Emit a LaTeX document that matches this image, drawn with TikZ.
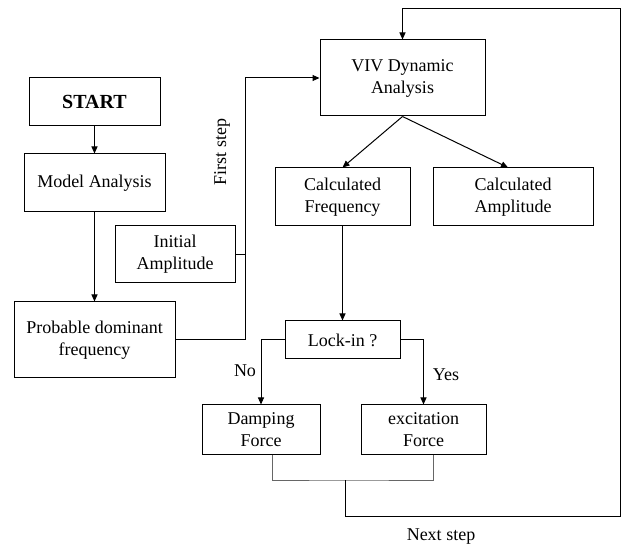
\documentclass[tikz,border=0pt]{standalone}
\usepackage{fontspec}
\setmainfont{Liberation Serif}
\usetikzlibrary{arrows.meta,calc}

\begin{document}
\begin{tikzpicture}[x=1pt, y=-1pt, line width=1pt,
    font=\fontsize{18}{22}\selectfont,
    box/.style={draw, align=center, inner sep=0pt},
    arr/.style={-{Triangle[length=7pt,width=6pt]}},
    mrg/.style={draw=black!60, line width=0.8pt}]
  \useasboundingbox (0,0) rectangle (627,545);
  % left column
  \node[box, minimum width=131pt, minimum height=48pt, font=\fontsize{20}{24}\selectfont\bfseries] (start) at (94.5,102) {START};
  \node[box, minimum width=141pt, minimum height=58pt] (model) at (94.5,183) {Model Analysis};
  \node[box, minimum width=120pt, minimum height=57pt] (init) at (175,254.5) {Initial\\Amplitude};
  \node[box, minimum width=161pt, minimum height=76pt] (prob) at (94.5,340) {Probable dominant\\frequency};
  % right part
  \node[box, minimum width=165pt, minimum height=76pt] (viv) at (402.5,78) {VIV Dynamic\\Analysis};
  \node[box, minimum width=135pt, minimum height=58pt] (cfreq) at (342.5,197) {Calculated\\Frequency};
  \node[box, minimum width=160pt, minimum height=58pt] (camp) at (513,197) {Calculated\\Amplitude};
  \node[box, minimum width=115pt, minimum height=38pt] (lock) at (342.5,340) {Lock-in ?};
  \node[box, minimum width=118pt, minimum height=49pt] (damp) at (261,429.5) {Damping\\Force};
  \node[box, minimum width=125pt, minimum height=49pt] (exc) at (423.5,429.5) {excitation\\Force};
  % labels
  \node[rotate=90] (first) at (222,152) {First step};
  \node (no) at (245,371) {No};
  \node (yes) at (446,375) {Yes};
  \node (next) at (441,537) {Next step};
  \coordinate (merge) at (345,480);
  % connectors
  \draw[arr] (start) -- (model);
  \draw[arr] (model) -- (prob);
  \draw[arr] (prob.east) -- ++(70,0) |- (viv.west);
  \draw (init.east) -- ++(10,0);
  \draw[arr] (viv.south) -- (cfreq.north);
  \draw[arr] (viv.south) -- ([xshift=-5pt]camp.north);
  \draw[arr] (cfreq) -- (lock);
  \draw[arr] (lock.west) -| (damp.north);
  \draw[arr] (lock.east) -| (exc.north);
  \draw[mrg] ([xshift=11pt]damp.south) |- (merge) -| ([xshift=10pt]exc.south);
  % feedback loop
  \draw[arr] (merge) -- ++(0,36) -| (620,9) -| (viv.north);
\end{tikzpicture}
\end{document}
